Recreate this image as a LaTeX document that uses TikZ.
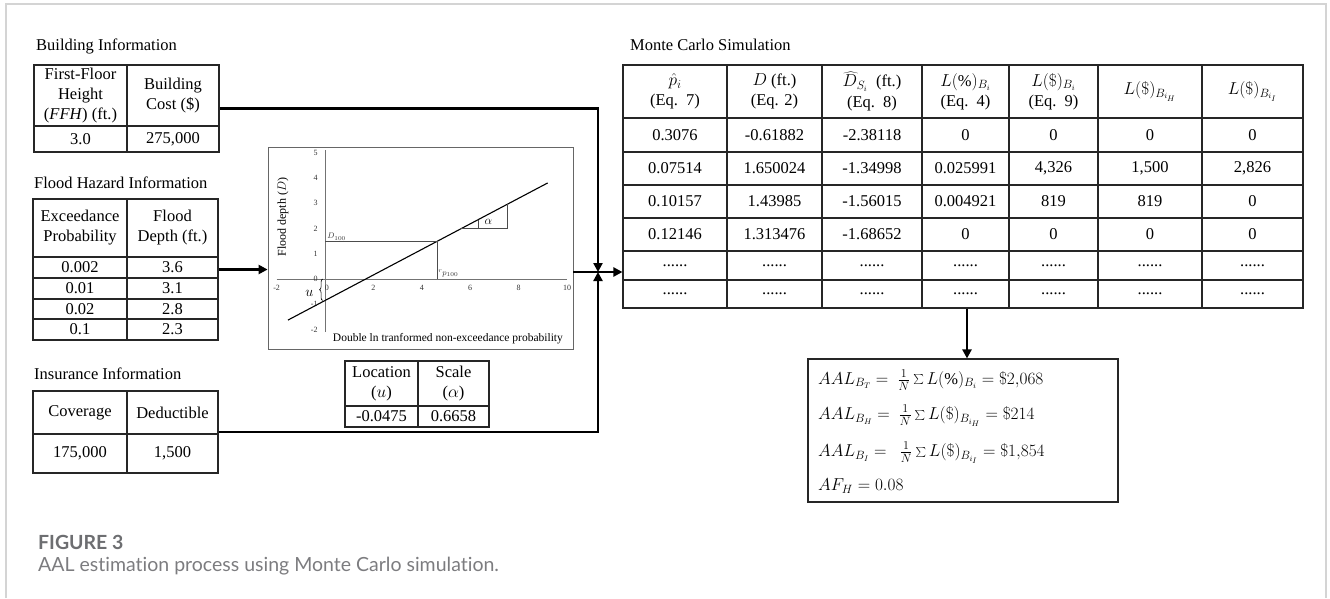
\documentclass[tikz,border=0pt]{standalone}
\usepackage{fontspec}
\setmainfont{Liberation Serif}
\newfontfamily\capfont[Ligatures=CommonOff]{Lato}
\usetikzlibrary{arrows.meta,decorations.pathreplacing,positioning}
\definecolor{capgray}{HTML}{6D6E71}
\definecolor{framegray}{HTML}{D4D4D4}
\newcommand{\mcdots}{......}

\tikzset{
	tblbox/.style={draw=black!85, line width=1.1pt, inner sep=0pt},
	tblline/.style={draw=black!85, line width=1.1pt},
	cell/.style={font=\fontsize{16.5}{20}\selectfont, align=center, inner sep=0pt},
	heading/.style={font=\fontsize{16.5}{20}\selectfont, anchor=west, inner sep=0pt},
	flow/.style={line width=2.8pt, -{Triangle[length=9pt,width=9pt]}},
	plotax/.style={draw=black!55, line width=0.8pt},
	ticklab/.style={font=\fontsize{8}{9}\selectfont, inner sep=0pt, text=black!80},
}

\begin{document}
\begin{tikzpicture}[x=1pt,y=-1pt]
	\useasboundingbox (0,0) rectangle (1330,598);
	\draw[framegray, line width=1.5pt] (6,598) -- (6,4) -- (1326,4) -- (1326,598);

	% building information
	\node[heading] (bldgtitle) at (36,46) {Building Information};
	\node[tblbox, minimum width=185pt, minimum height=87pt] (bldg) at (126.5,108.5) {};
	\draw[tblline] (127,65) -- (127,152) (34,126) -- (219,126);
	\node[cell] (b11) at (80.5,95.5) {First-Floor\\Height\\(\textit{FFH}) (ft.)};
	\node[cell] (b12) at (173,95.5) {Building\\Cost (\$)};
	\node[cell] (b21) at (80.5,139) {3.0};
	\node[cell] (b22) at (173,139) {275,000};

	% flood hazard information
	\node[heading] (floodtitle) at (34,183) {Flood Hazard Information};
	\node[tblbox, minimum width=185pt, minimum height=141pt] (flood) at (125.5,269.5) {};
	\draw[tblline] (127,199) -- (127,340);
	\foreach \yy in {257,278,299,319}
		\draw[tblline] (33,\yy) -- (218,\yy);
	\node[cell] (f01) at (80,228) {Exceedance\\Probability};
	\node[cell] (f02) at (172.5,228) {Flood\\Depth (ft.)};
	\foreach \p/\d [count=\k] in {0.002/3.6, 0.01/3.1, 0.02/2.8, 0.1/2.3} {
		\node[cell] (f\k1) at (80,{257+20.75*\k-10.4}) {\p};
		\node[cell] (f\k2) at (172.5,{257+20.75*\k-10.4}) {\d};
	}

	% insurance information
	\node[heading] (institle) at (34,374) {Insurance Information};
	\node[tblbox, minimum width=185pt, minimum height=82pt] (ins) at (125.5,432) {};
	\draw[tblline] (127,391) -- (127,473) (33,434) -- (218,434);
	\node[cell] (i11) at (80,412.5) {Coverage};
	\node[cell] (i12) at (172.5,412.5) {Deductible};
	\node[cell] (i21) at (80,453.5) {175,000};
	\node[cell] (i22) at (172.5,453.5) {1,500};

	% gumbel plot
	\node[draw=black!60, line width=0.8pt, minimum width=305pt, minimum height=202pt] (graph) at (420.5,248) {};
	\begin{scope}[shift={(325,279)}, x=24.2pt, y=25.3pt]
		\draw[plotax] (-2,0) -- (10,0);
		\draw[plotax] (0,-2.1) -- (0,5.1);
		\foreach \t in {-2,2,4,6,8,10}
			\node[ticklab, anchor=north] at (\t,-0.25) {\t};
		\node[ticklab, anchor=north] at (0.08,-0.25) {0};
		\foreach \t in {-2,-1,0,1,2,3,4,5}
			\node[ticklab, anchor=east] at (-0.3,\t) {\t};
		\draw[line width=1.1pt] (-1.53,-1.623) -- (9.2,3.796);
		\draw[black!70, line width=0.6pt] (0,1.49) -- (4.63,1.49) -- (4.63,0);
		\node[ticklab, anchor=south west, inner sep=1pt] (dlab) at (0.05,1.49) {$D_{100}$};
		\node[ticklab, anchor=south west, inner sep=1pt] (plab) at (4.63,0.02) {${}^{r}p_{100}$};
		\draw[black!70, line width=0.6pt] (5.58,2) -- (7.52,2) -- (7.52,2.95);
		\draw[black!70, line width=0.6pt] (6.32,2) -- (6.32,2.34);
		\node[font=\fontsize{12}{13}\selectfont] (alab) at (6.75,2.25) {$\alpha$};
		\draw[line width=0.6pt, decorate, decoration={brace, amplitude=3pt}] (-0.1,-0.85) -- (-0.1,0);
		\node[font=\fontsize{14}{15}\selectfont] (ulab) at (-0.65,-0.55) {$u$};
		\node[rotate=90, font=\fontsize{12}{13}\selectfont] (ylab) at (-1.74,2.45) {Flood depth ($D$)};
		\node[font=\fontsize{11.5}{13}\selectfont] (xlab) at (5.08,-2.37) {Double ln tranformed non-exceedance probability};
	\end{scope}

	% gumbel parameters
	\node[tblbox, minimum width=144pt, minimum height=66pt] (param) at (417,394) {};
	\draw[tblline] (418,361) -- (418,427) (345,406) -- (489,406);
	\node[cell] (l11) at (381.5,383.5) {Location\\($u$)};
	\node[cell] (l12) at (453.5,383.5) {Scale\\($\alpha$)};
	\node[cell] (l21) at (381.5,416.5) {-0.0475};
	\node[cell] (l22) at (453.5,416.5) {0.6658};

	% monte carlo table
	\node[heading] (mctitle) at (630,45) {Monte Carlo Simulation};
	\node[tblbox, minimum width=680pt, minimum height=243pt] (mc) at (963,186.5) {};
	\foreach \xx in {727,822,922,1009,1098,1202}
		\draw[tblline] (\xx,65) -- (\xx,308);
	\foreach \yy in {118,152,185,218,251,280}
		\draw[tblline] (623,\yy) -- (1303,\yy);
	\foreach \xx/\txt [count=\c] in {675/{$\hat{p}_i$\\(Eq.\ \ 7)}, 774.5/{$D$ (ft.)\\(Eq. 2)},
		872/{$\widehat{D}_{S_i}$\ \ (ft.)\\[1pt](Eq.\ \ 8)}, 965.5/{$L(\%)_{B_i}$\\(Eq.\ \ 4)},
		1053.5/{$L(\$)_{B_i}$\\(Eq.\ \ 9)}, 1150/{$L(\$)_{B_{i_H}}$}, 1252.5/{$L(\$)_{B_{i_I}}$}}
		\node[cell] (h\c) at (\xx,91.5) {\txt};
	\foreach \yy/\va/\vb/\vc/\vd/\ve/\vf/\vg [count=\r] in {
		135/0.3076/-0.61882/-2.38118/0/0/0/0,
		168.5/0.07514/1.650024/-1.34998/0.025991/4{,}326/1{,}500/2{,}826,
		201.5/0.10157/1.43985/-1.56015/0.004921/819/819/0,
		234.5/0.12146/1.313476/-1.68652/0/0/0/0,
		265.5/\mcdots/\mcdots/\mcdots/\mcdots/\mcdots/\mcdots/\mcdots,
		294/\mcdots/\mcdots/\mcdots/\mcdots/\mcdots/\mcdots/\mcdots} {
		\node[cell] (r\r a) at (675,\yy) {\va};
		\node[cell] (r\r b) at (774.5,\yy) {\vb};
		\node[cell] (r\r c) at (872,\yy) {\vc};
		\node[cell] (r\r d) at (965.5,\yy) {\vd};
		\node[cell] (r\r e) at (1053.5,\yy) {\ve};
		\node[cell] (r\r f) at (1150,\yy) {\vf};
		\node[cell] (r\r g) at (1252.5,\yy) {\vg};
	}

	% aal results
	\node[tblbox, minimum width=310pt, minimum height=143pt] (aal) at (963,430.5) {};
	\node[cell, anchor=west] (aal1) at (818,380) {$AAL_{B_T} =\ \frac{1}{N}\sum L(\%)_{B_i} = \$2{,}068$};
	\node[cell, anchor=west] (aal2) at (818,416) {$AAL_{B_H} =\ \frac{1}{N}\sum L(\$)_{B_{i_H}} = \$214$};
	\node[cell, anchor=west] (aal3) at (818,453) {$AAL_{B_I} =\ \ \frac{1}{N}\sum L(\$)_{B_{i_I}} = \$1{,}854$};
	\node[cell, anchor=west] (aal4) at (818,486) {$AF_H = 0.08$};

	% connectors
	\coordinate (jn) at (598,272);
	\coordinate (dn) at (967,0);
	\draw[flow] (bldg.east) -| (jn);
	\draw[flow] (ins.east) -| (jn);
	\draw[flow] (flood.east) -- (flood.east -| graph.west);
	\draw[flow] (graph.east |- jn) -- (mc.west |- jn);
	\draw[flow] (mc.south -| dn) -- (aal.north -| dn);

	% caption
	\node[anchor=west, inner sep=0pt, text=capgray, font=\capfont\bfseries\fontsize{19.5}{23}\selectfont] (fignum) at (38,542) {FIGURE 3};
	\node[anchor=west, inner sep=0pt, text=capgray!90, font=\capfont\fontsize{19.5}{23}\selectfont] (figcap) at (38,566) {AAL estimation process using Monte Carlo simulation.};
\end{tikzpicture}
\end{document}
